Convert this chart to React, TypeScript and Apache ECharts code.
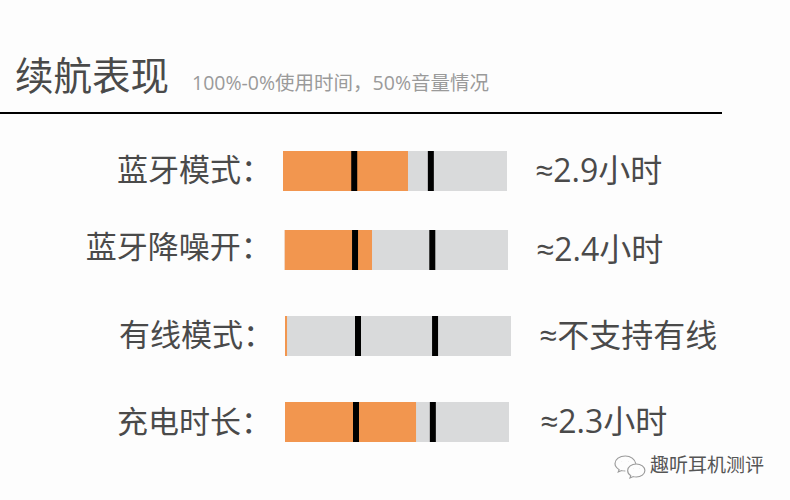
import React, { useEffect, useRef } from "react";
import * as echarts from "echarts";

const categories = ["蓝牙模式：", "蓝牙降噪开：", "有线模式：", "充电时长："];
const batteryUsed = [55.8, 39.1, 0.9, 58.5];
const firstMarker = [31.8, 31.5, 32.3, 31.7];
const secondMarker = [66, 66.1, 66.4, 66];
const resultLabels = ["≈2.9小时", "≈2.4小时", "≈不支持有线", "≈2.3小时"];
const trackTotal = [100, 100, 100, 100];

const FONT = '"Open Sans", "Noto Sans CJK SC", sans-serif';
const TEXT = "#4a4a4a";

const rowLayout = [
  { left: 283, top: 151, width: 224, labelGap: 11, labelLift: 2, resultGap: 28 },
  { left: 284.7, top: 230, width: 223.3, labelGap: 13, labelLift: 4, resultGap: 28 },
  { left: 285, top: 316, width: 226, labelGap: 11, labelLift: 2, resultGap: 28 },
  { left: 285, top: 402, width: 224, labelGap: 13, labelLift: 1, resultGap: 31 },
];

const wechatIcon =
  "M9 0C4 0 0 3.4 0 7.6c0 2.5 1.4 4.6 3.6 6L2.8 16l2.9-1.4c.9.3 2 .4 3.3.4M11 14.5c0-3.6 3.4-6.5 7.5-6.5S26 10.9 26 14.5 22.6 21 18.500 21c-.9 0-1.800-.1-2.600-.4L13 22l.7-2.300C12 18.500 11 16.600 11 14.500M18 7.500C17.400 3.200 13.500 0 9 0M6 5.500h.1M12 5.500h.1M16 12.500h.1M21 12.500h.1";
echarts.graphic.registerShape("wechatIcon", echarts.graphic.extendPath(wechatIcon, {}));

export default function App() {
  const ref = useRef<HTMLDivElement>(null);

  useEffect(() => {
    document.body.style.margin = "0";
    const chart = echarts.init(ref.current!, null, { renderer: "svg", width: 790, height: 500 });
    const idx = categories.map((_, i) => i);
    chart.setOption({
      animation: false,
      backgroundColor: "#fdfdfd",
      title: [
        {
          text: "续航表现",
          left: 15,
          top: 50,
          padding: 0,
          textStyle: { fontFamily: FONT, fontSize: 38.5, fontWeight: 400, color: TEXT, lineHeight: 50 },
        },
        {
          text: "100%-0%使用时间，50%音量情况",
          left: 192,
          top: 69,
          padding: 0,
          textStyle: { fontFamily: FONT, fontSize: 19.5, fontWeight: 400, color: "#9a9a9a", lineHeight: 26 },
        },
      ],
      grid: idx.map((i) => ({
        left: rowLayout[i].left,
        top: rowLayout[i].top,
        width: rowLayout[i].width,
        height: 40,
        containLabel: false,
      })),
      xAxis: idx.map((i) => ({
        type: "value",
        gridIndex: i,
        min: 0,
        max: 100,
        show: false,
      })),
      yAxis: idx.map((i) => ({
        type: "category",
        gridIndex: i,
        data: [categories[i]],
        axisLine: { show: false },
        axisTick: { show: false },
        splitLine: { show: false },
        axisLabel: {
          show: true,
          margin: rowLayout[i].labelGap,
          fontFamily: FONT,
          fontSize: 31,
          fontWeight: 400,
          color: TEXT,
          verticalAlign: "bottom",
          lineHeight: rowLayout[i].labelLift * 2,
        },
      })),
      series: idx.flatMap((i) => [
        {
          type: "bar",
          xAxisIndex: i,
          yAxisIndex: i,
          data: [trackTotal[i]],
          barWidth: 40,
          barGap: "-100%",
          silent: true,
          itemStyle: { color: "#d9dadb" },
          label: {
            show: true,
            position: "right",
            distance: rowLayout[i].resultGap,
            offset: [0, -2],
            formatter: () => resultLabels[i],
            fontFamily: FONT,
            fontSize: 32,
            fontWeight: 400,
            color: TEXT,
          },
        },
        {
          type: "bar",
          xAxisIndex: i,
          yAxisIndex: i,
          data: [batteryUsed[i]],
          barWidth: 40,
          barGap: "-100%",
          silent: true,
          itemStyle: { color: "#f2964f" },
        },
        {
          type: "scatter",
          xAxisIndex: i,
          yAxisIndex: i,
          data: [[firstMarker[i], categories[i]], [secondMarker[i], categories[i]]],
          symbol: "rect",
          symbolSize: [6, 40],
          silent: true,
          itemStyle: { color: "#000", opacity: 1 },
          z: 5,
        },
      ]),
      graphic: [
        { type: "line", shape: { x1: 0, y1: 113, x2: 722, y2: 113 }, style: { stroke: "#000", lineWidth: 2 } },
        {
          type: "wechatIcon",
          x: 615,
          y: 456,
          scaleX: 1.15,
          scaleY: 1,
          style: { fill: "none", stroke: "#9a9a9a", lineWidth: 1 },
        },
        {
          type: "text",
          x: 650,
          y: 465,
          style: {
            text: "趣听耳机测评",
            fontFamily: FONT,
            fontSize: 19,
            fill: "#555",
            verticalAlign: "middle",
          },
        },
      ],
    });
    return () => chart.dispose();
  }, []);

  return <div ref={ref} style={{ width: 790, height: 500 }} />;
}
